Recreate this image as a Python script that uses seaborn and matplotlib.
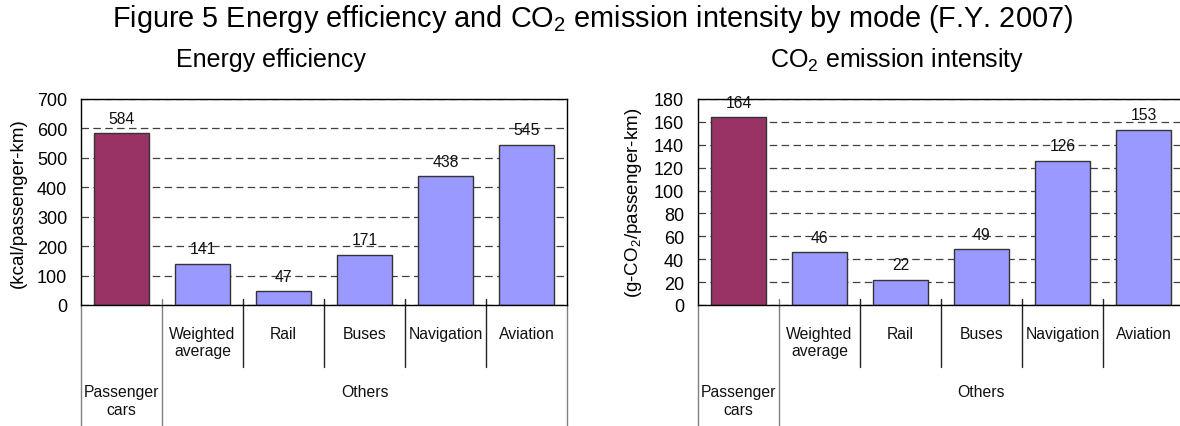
import matplotlib
matplotlib.use("Agg")
import matplotlib.pyplot as plt
from matplotlib import font_manager
import pandas as pd
import seaborn as sns

categories = ["Passenger cars", "Weighted\naverage", "Rail", "Buses", "Navigation", "Aviation"]
sub_labels = ["", "Weighted\naverage", "Rail", "Buses", "Navigation", "Aviation"]
energy = [584, 141, 47, 171, 438, 545]
co2 = [164, 46, 22, 49, 126, 153]
groups = ["Passenger\ncars", "Others"]
energy_ticks = list(range(0, 701, 100))
co2_ticks = list(range(0, 181, 20))

bar_colors = ["#993366"] + ["#9999FF"] * 5

sns.set_style("white")
plt.rcParams["font.family"] = ["Liberation Sans", "DejaVu Sans"]
plt.rcParams["mathtext.fontset"] = "custom"
plt.rcParams["mathtext.rm"] = "Liberation Sans"
plt.rcParams["text.color"] = "black"
plt.rcParams["axes.labelcolor"] = "black"
plt.rcParams["ytick.color"] = "black"

# narrow face for the category / value labels if it is there
names = {f.name for f in font_manager.fontManager.ttflist}
if "Liberation Sans Narrow" in names:
    narrow, narrow_size = ["Liberation Sans Narrow", "DejaVu Sans"], 13
else:
    narrow, narrow_size = ["Liberation Sans", "DejaVu Sans"], 11.3

W, H = 1180, 427
fig = plt.figure(figsize=(W / 100, H / 100), dpi=100)


def draw_panel(left_px, values, ticks, ylabel):
    ax = fig.add_axes([left_px / W, (H - 306) / H, 486 / W, 206 / H])
    df = pd.DataFrame({"cat": categories, "val": values})
    sns.barplot(data=df, x="cat", y="val", hue="cat", order=categories,
                palette=dict(zip(categories, bar_colors)), legend=False,
                saturation=1, width=0.667, edgecolor="#333333", linewidth=1.0,
                ax=ax, zorder=2)
    ax.set_xlim(-0.5, 5.5)
    ax.set_ylim(ticks[0], ticks[-1])
    ax.set_yticks(ticks)
    ax.yaxis.grid(True, color="#404040", linestyle=(0, (6, 3.5)), linewidth=0.9)
    ax.set_axisbelow(True)
    ax.tick_params(axis="y", length=0, pad=10, labelsize=13)
    ax.set_xticks([])
    ax.set_xlabel("")
    ax.set_ylabel(ylabel, fontsize=13.5)
    ax.yaxis.set_label_coords(-0.112, 0.5)
    for s in ax.spines.values():
        s.set_color("black")
        s.set_linewidth(1.0)

    for i, v in enumerate(values):
        ax.annotate(str(v), xy=(i, v), xytext=(0, 7.5), textcoords="offset points",
                    ha="center", va="baseline", family=narrow, fontsize=narrow_size,
                    color="#111111")

    tr = ax.get_xaxis_transform()
    # category frame below the axis
    for x in (-0.5, 5.5):
        ax.plot([x, x], [0, -0.62], transform=tr, clip_on=False, color="#808080", lw=1)
    ax.plot([0.5, 0.5], [0.03, -0.62], transform=tr, clip_on=False, color="#808080", lw=1)
    for x in (1.5, 2.5, 3.5, 4.5):
        ax.plot([x, x], [0.03, -0.30], transform=tr, clip_on=False, color="#222222", lw=1)

    for i, lab in enumerate(sub_labels):
        if lab:
            ax.text(i, -0.10, lab, transform=tr, ha="center", va="top",
                    family=narrow, fontsize=narrow_size, color="#111111")
    ax.text(0, -0.385, groups[0], transform=tr, ha="center", va="top",
            family=narrow, fontsize=narrow_size, color="#111111")
    ax.text(3, -0.385, groups[1], transform=tr, ha="center", va="top",
            family=narrow, fontsize=narrow_size, color="#111111")
    return ax


draw_panel(81, energy, energy_ticks, "(kcal/passenger-km)")
draw_panel(698, co2, co2_ticks, r"(g-CO$_{\mathregular{2}}$/passenger-km)")

fig.text(592 / W, 1 - 27 / H,
         r"Figure 5 Energy efficiency and CO$_{\mathregular{2}}$ emission intensity by mode (F.Y. 2007)",
         ha="center", va="baseline", fontsize=20.8)
fig.text(271 / W, 1 - 67 / H, "Energy efficiency", ha="center", va="baseline", fontsize=18)
fig.text(897 / W, 1 - 67 / H, r"CO$_{\mathregular{2}}$ emission intensity",
         ha="center", va="baseline", fontsize=18)

fig.savefig("out.png", dpi=100)
